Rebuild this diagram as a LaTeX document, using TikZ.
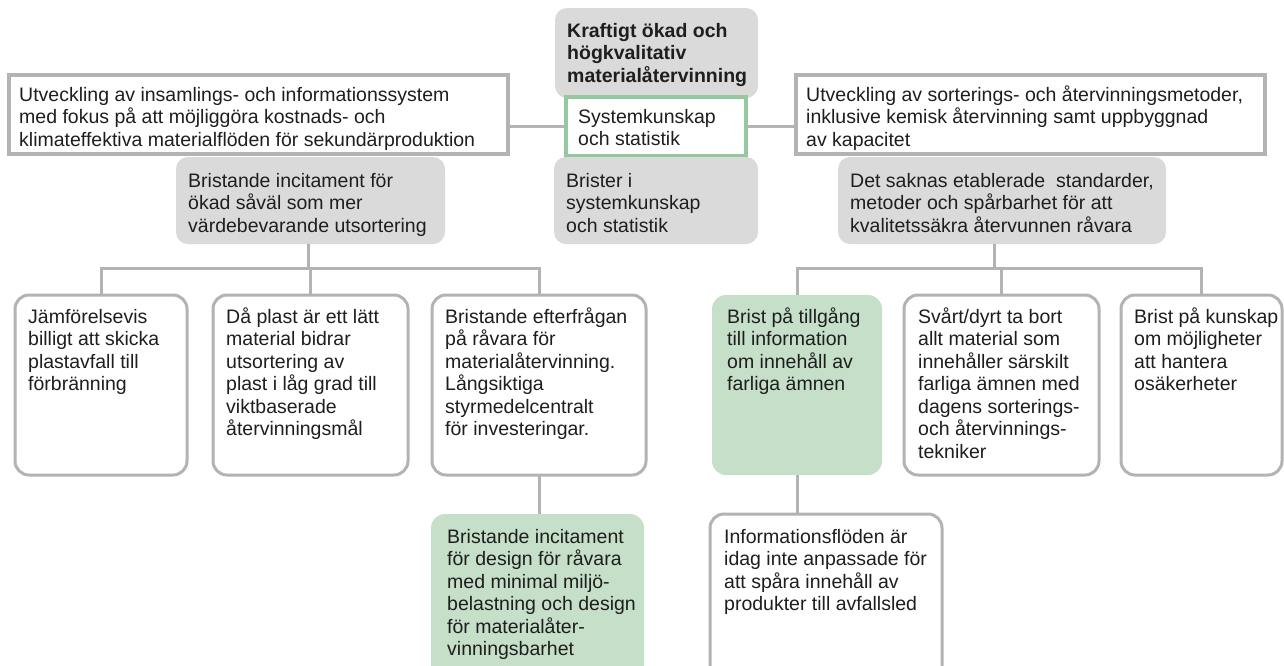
\documentclass[tikz,border=0pt]{standalone}
\usepackage{fontspec}
\setmainfont{Liberation Sans}
\definecolor{boxgray}{HTML}{DADADA}
\definecolor{linegray}{HTML}{B3B3B3}
\definecolor{framegreen}{HTML}{94C9A0}
\definecolor{cardgreen}{HTML}{C5DFC8}
\definecolor{ink}{HTML}{1E1E1E}
\tikzset{
  boxbase/.style={anchor=north west, inner sep=0pt, outer sep=0pt},
  graybox/.style={boxbase, fill=boxgray, rounded corners=12pt},
  plainframe/.style={boxbase, draw=linegray, line width=4pt, fill=white},
  greenframe/.style={boxbase, draw=framegreen, line width=4pt, fill=white},
  cardbox/.style={boxbase, draw=linegray, line width=3pt, fill=white, rounded corners=14pt},
  greencard/.style={boxbase, fill=cardgreen, rounded corners=14pt},
  boxtext/.style={anchor=north west, inner sep=0pt, align=left, text=ink,
    font=\fontsize{19.5}{22.5}\selectfont},
  link/.style={draw=linegray, line width=3pt},
}
% box: name, style, x, y, width, height
\newcommand{\placebox}[6]{\node[#2, minimum width=#5pt, minimum height=#6pt] (#1) at (#3,#4) {};}
% text inside a box: name, dx, dy, text
\newcommand{\boxlabel}[4]{\node[boxtext] (#1t) at ([shift={(#2,#3)}]#1.north west) {\rule{0pt}{16pt}#4};}
\begin{document}
\begin{tikzpicture}[x=1pt,y=-1pt]
\useasboundingbox (0,0) rectangle (1284,665);
\clip (0,0) rectangle (1284,665);
\fill[white] (0,0) rectangle (1284,665);

% top goal and the two development areas
\placebox{goal}{graybox}{555}{8}{203}{90}
\boxlabel{goal}{12}{13}{\bfseries Kraftigt ökad och\\\bfseries högkvalitativ\\\bfseries materialåtervinning}
\placebox{sys}{greenframe}{566}{97}{180}{59}
\boxlabel{sys}{12}{10}{Systemkunskap\\och statistik}
\placebox{lack}{graybox}{554}{157}{204}{87}
\boxlabel{lack}{12}{14}{Brister i\\systemkunskap\\och statistik}

\placebox{collect}{plainframe}{9}{75}{499}{79}
\boxlabel{collect}{10}{10}{Utveckling av insamlings- och informationssystem\\med fokus på att möjliggöra kostnads- och\\klimateffektiva materialflöden för sekundärproduktion}
\placebox{sort}{plainframe}{796}{75}{469}{79}
\boxlabel{sort}{10}{10}{Utveckling av sorterings- och återvinningsmetoder,\\inklusive kemisk återvinning samt uppbyggnad\\av kapacitet}

\placebox{incent}{graybox}{176}{157}{269}{87}
\boxlabel{incent}{12}{14}{Bristande incitament för\\ökad såväl som mer\\värdebevarande utsortering}
\placebox{std}{graybox}{838}{157}{328}{87}
\boxlabel{std}{12}{14}{Det saknas etablerade\ \ standarder,\\metoder och spårbarhet för att\\kvalitetssäkra återvunnen råvara}

% second level
\placebox{cheap}{cardbox}{15}{295}{172}{180}
\boxlabel{cheap}{13}{12}{Jämförelsevis\\billigt att skicka\\plastavfall till\\förbränning}
\placebox{light}{cardbox}{213}{295}{195}{180}
\boxlabel{light}{13}{12}{Då plast är ett lätt\\material bidrar\\utsortering av\\plast i låg grad till\\viktbaserade\\återvinningsmål}
\placebox{demand}{cardbox}{432}{295}{214}{180}
\boxlabel{demand}{13}{12}{Bristande efterfrågan\\på råvara för\\materialåtervinning.\\Långsiktiga\\styrmedelcentralt\\för investeringar.}
\placebox{access}{greencard}{712}{295}{170}{180}
\boxlabel{access}{15}{12}{Brist på tillgång\\till information\\om innehåll av\\farliga ämnen}
\placebox{remove}{cardbox}{904}{295}{195}{180}
\boxlabel{remove}{14}{12}{Svårt/dyrt ta bort\\allt material som\\innehåller särskilt\\farliga ämnen med\\dagens sorterings-\\och återvinnings-\\tekniker}
\placebox{know}{cardbox}{1121}{295}{161}{180}
\boxlabel{know}{13}{12}{Brist på kunskap\\om möjligheter\\att hantera\\osäkerheter}

% third level
\placebox{design}{greencard}{431}{514}{213}{170}
\boxlabel{design}{16}{13}{Bristande incitament\\för design för råvara\\med minimal miljö-\\belastning och design\\för materialåter-\\vinningsbarhet}
\placebox{flow}{cardbox}{710}{514}{232}{170}
\boxlabel{flow}{14}{13}{Informationsflöden är\\idag inte anpassade för\\att spåra innehåll av\\produkter till avfallsled}

% connectors
\path[link] (sys.west) -- (sys.west -| collect.east);
\path[link] (sys.east) -- (sys.east -| sort.west);
\coordinate (bus) at (0,268);
\path[link] ([xshift=-2pt]incent.south) -- ([xshift=-2pt]incent.south |- bus);
\path[link] (cheap.north) -- (cheap.north |- bus) -- (demand.north |- bus) -- (demand.north);
\path[link] (light.north) -- (light.north |- bus);
\path[link] ([xshift=-8pt]std.south) -- ([xshift=-8pt]std.south |- bus);
\path[link] (access.north) -- (access.north |- bus) -- (know.north |- bus) -- (know.north);
\path[link] (remove.north) -- (remove.north |- bus);
\path[link] (demand.south) -- (demand.south |- design.north);
\path[link] (access.south) -- (access.south |- flow.north);
\end{tikzpicture}
\end{document}
